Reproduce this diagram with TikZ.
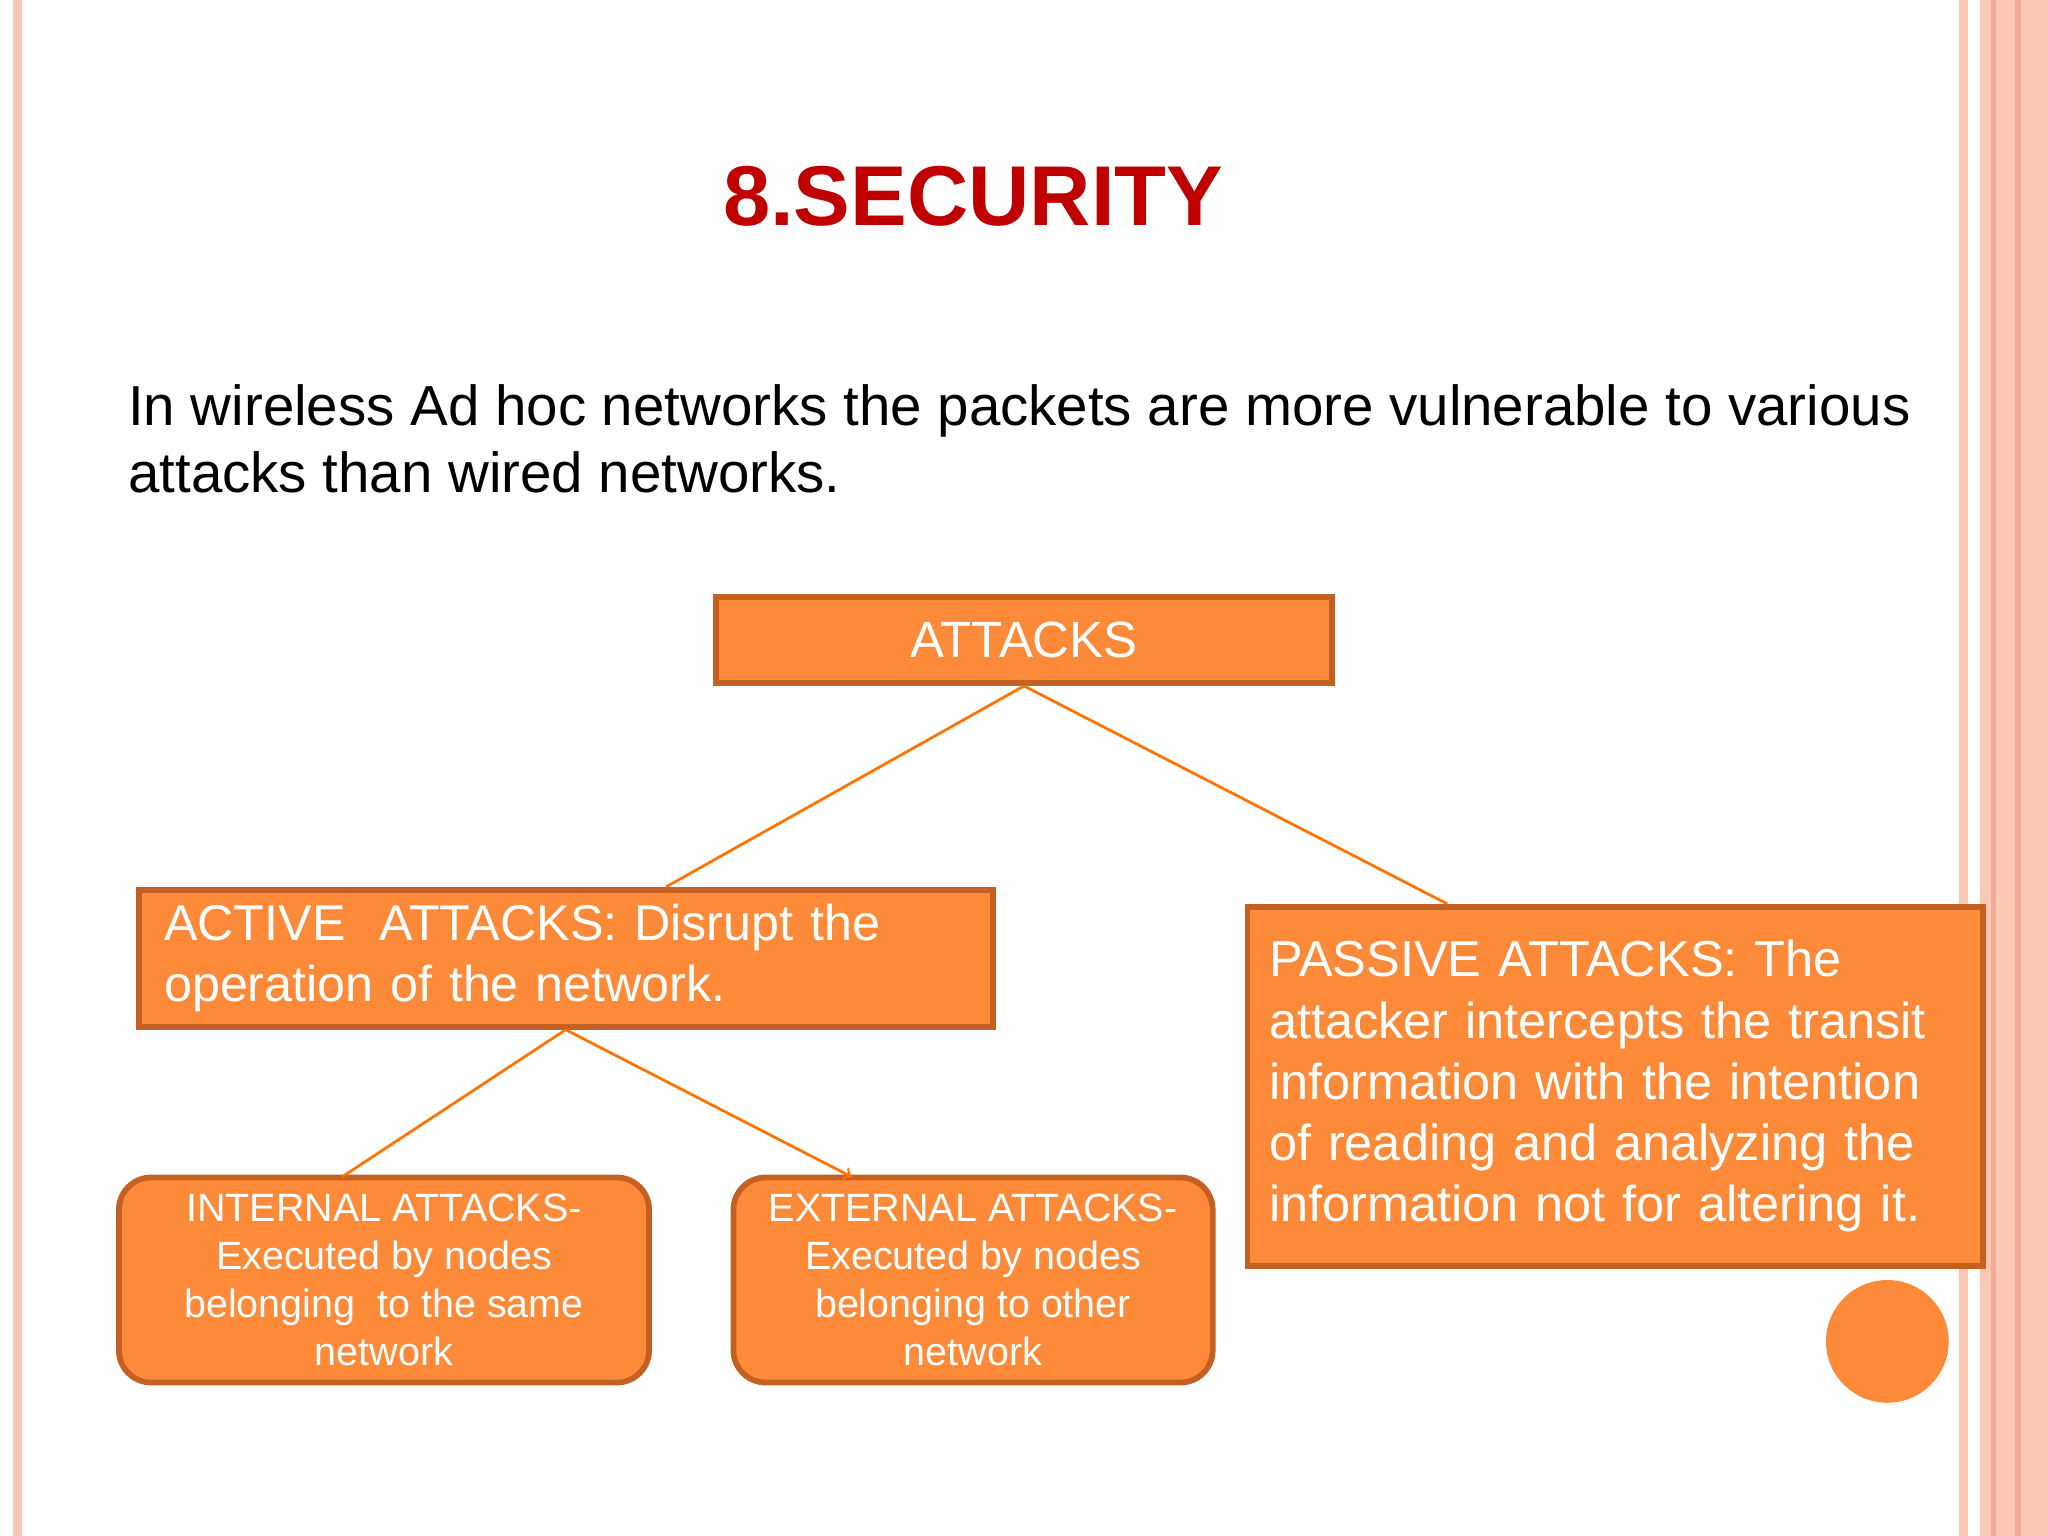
\documentclass[tikz,border=0pt]{standalone}
\usepackage{fontspec}
\setmainfont{Liberation Sans}
\usetikzlibrary{positioning}
\definecolor{boxfill}{RGB}{253,138,56}
\definecolor{boxline}{RGB}{196,96,34}
\definecolor{titlered}{RGB}{192,0,0}
\definecolor{stripe}{RGB}{250,200,180}
\definecolor{stripedark}{RGB}{245,170,150}
\tikzset{
  block/.style={draw=boxline, line width=2.5pt, fill=boxfill, rectangle, text=white, inner sep=0pt},
  rblock/.style={block, rounded corners=14pt, align=center, font=\fontsize{17.2}{21}\selectfont},
  link/.style={draw=orange!90!red, line width=1.2pt}
}
\begin{document}
\begin{tikzpicture}[x=0.02cm, y=-0.02cm]
    \useasboundingbox (0,0) rectangle (1568,1176);
    % page frame
    \fill[stripe] (1516,0) rectangle (1568,1176);
    \fill[stripe] (1500,0) rectangle (1507,1176);
    \fill[stripedark] (1524,0) rectangle (1528,1176);
    \fill[stripedark] (1543,0) rectangle (1547,1176);
    \fill[stripe] (10,0) rectangle (17,1176);

    % title and intro
    \node[text=titlered, font=\bfseries\fontsize{37}{44}\selectfont] (title) at (745,150) {8.SECURITY};
    \node[anchor=west, align=left, font=\fontsize{24.6}{29.5}\selectfont] (intro) at (92,336)
        {In wireless Ad hoc networks the packets are more vulnerable to various\\attacks than wired networks.};

    % boxes
    \node[block, minimum width=9.44cm, minimum height=1.32cm, font=\fontsize{22.2}{27}\selectfont] (attacks) at (784,490) {ATTACKS};
    \node[block, minimum width=13.08cm, minimum height=2.1cm, anchor=north west, align=left,
          text width=12.3cm, inner xsep=0.32cm, font=\fontsize{21.9}{26.7}\selectfont] (active) at (104,679)
        {ACTIVE\ \ ATTACKS: Disrupt the\\operation of the network.};
    \node[block, minimum width=11.26cm, minimum height=5.5cm, anchor=north west, align=left,
          text width=10.6cm, inner xsep=0.32cm, font=\fontsize{22}{26.7}\selectfont] (passive) at (953,692)
        {PASSIVE ATTACKS: The\\attacker intercepts the transit\\information with the intention\\of reading and analyzing the\\information not for altering it.};
    \node[rblock, minimum width=8.12cm, minimum height=3.14cm] (internal) at (294,980)
        {INTERNAL ATTACKS-\\Executed by nodes\\belonging\ \ to the same\\network};
    \node[rblock, minimum width=7.34cm, minimum height=3.14cm] (external) at (745,980)
        {EXTERNAL ATTACKS-\\Executed by nodes\\belonging to other\\network};
    \node[circle, fill=boxfill, minimum size=1.88cm] (dot) at (1445,1027) {};

    % connectors
    \coordinate (aIn) at (510,679);
    \coordinate (pIn) at (1108,692);
    \coordinate (iIn) at (262,901);
    \coordinate (eIn) at (652,901);
    \draw[link] (attacks.south) -- (aIn);
    \draw[link] (attacks.south) -- (pIn);
    \draw[link] (active.south) -- (iIn);
    \draw[link, ->] (active.south) -- (eIn);
\end{tikzpicture}
\end{document}
